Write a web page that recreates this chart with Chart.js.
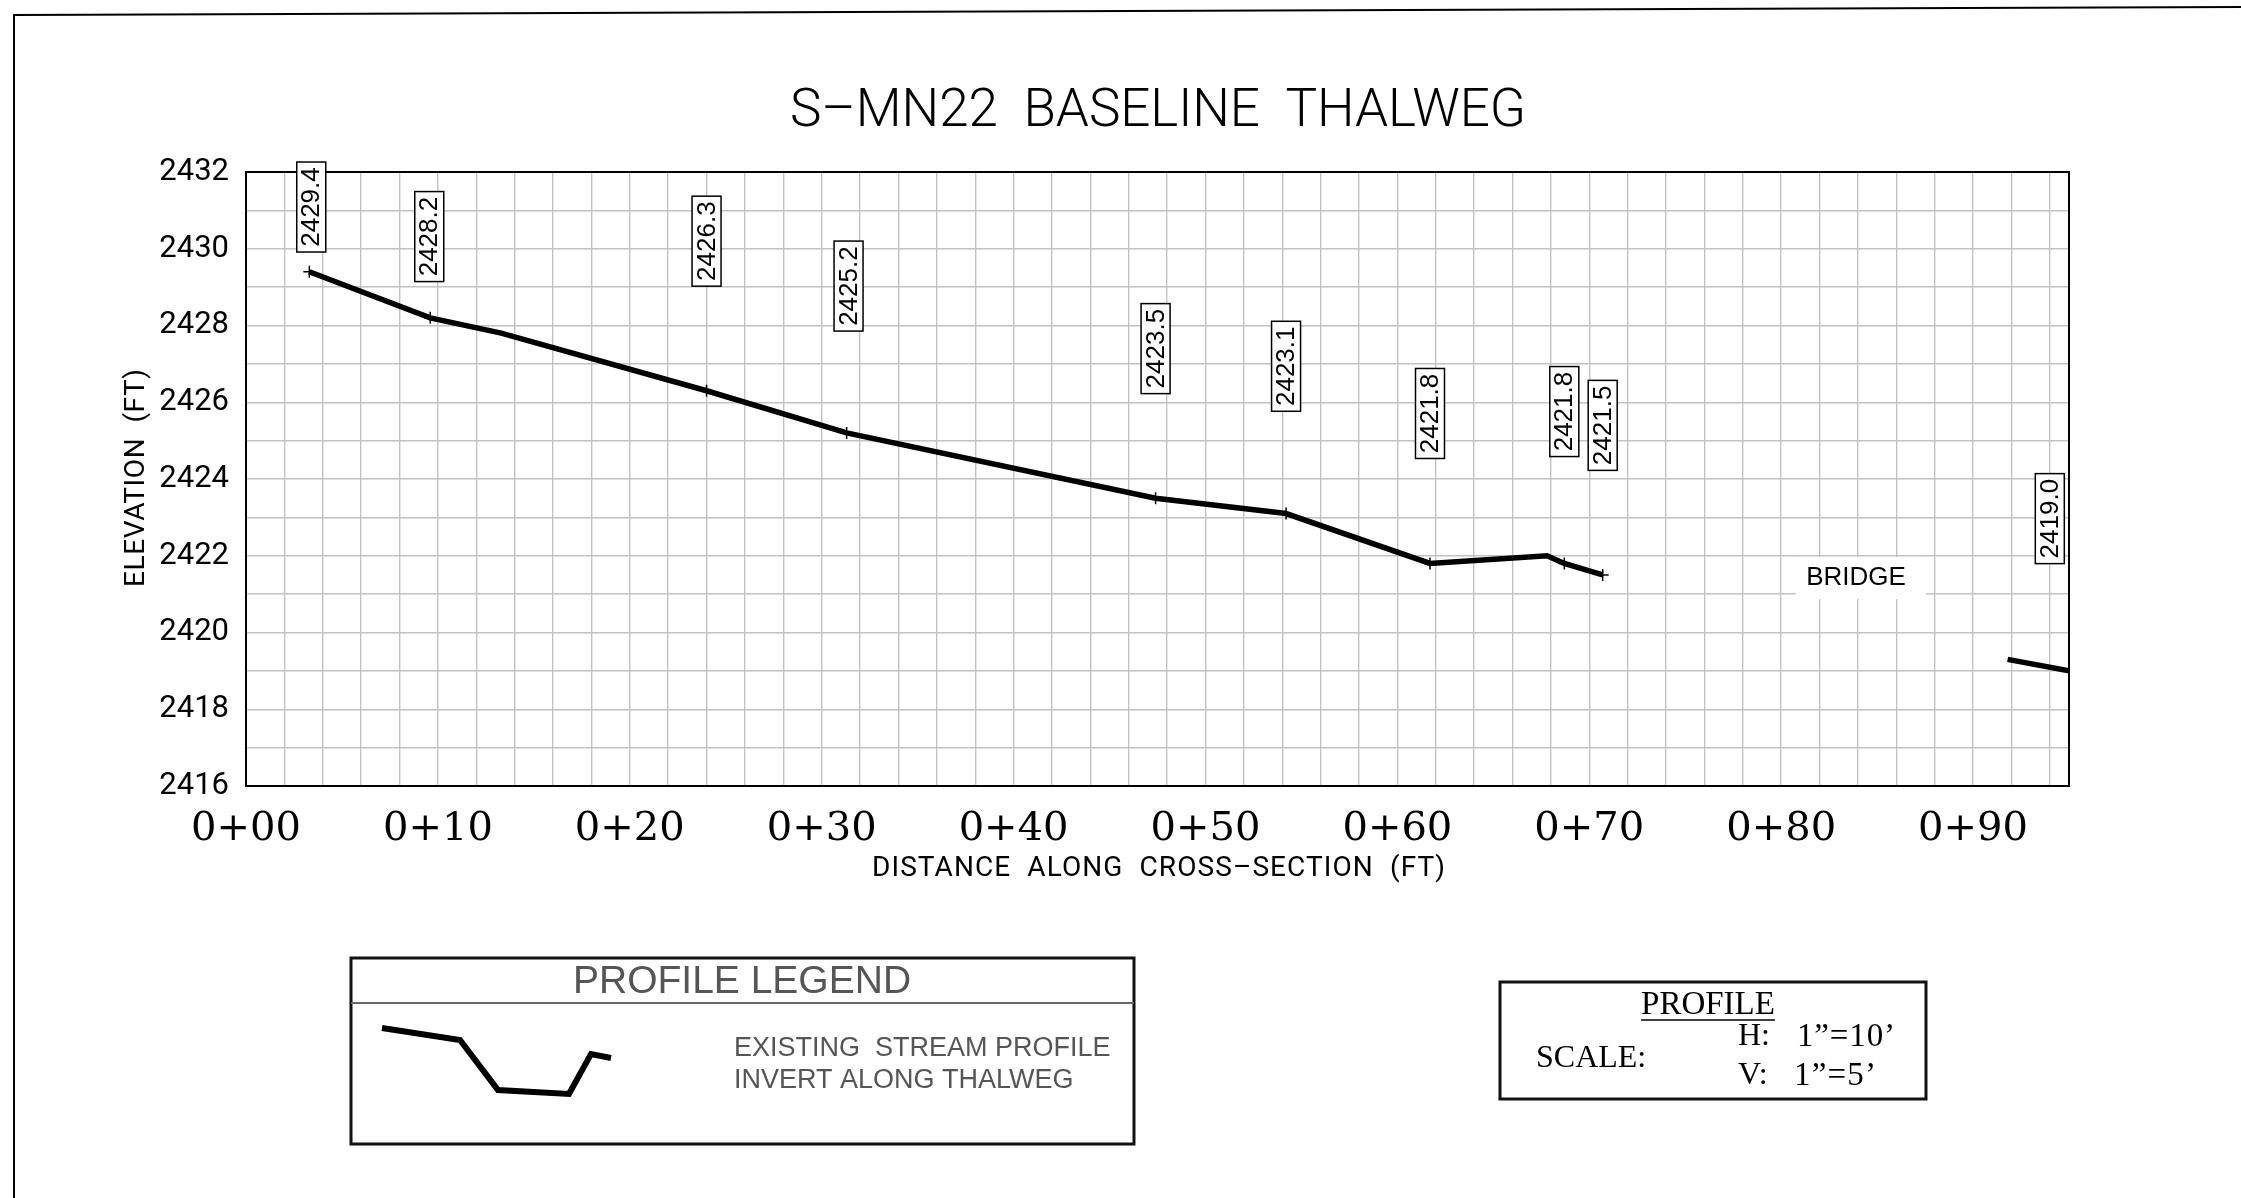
<!DOCTYPE html>
<html>
<head>
<meta charset="utf-8">
<script src="https://cdn.jsdelivr.net/npm/chart.js@4.4.1/dist/chart.umd.min.js"></script>
<style>
  html, body { margin: 0; padding: 0; background: #fff; }
  #wrap { width: 2241px; height: 1198px; }
</style>
</head>
<body>
<div id="wrap"><canvas id="profile" width="2241" height="1198"></canvas></div>
<script>
// thalweg upstream of the bridge (ft along section, elevation ft)
const stations   = [3.3, 9.6, 13.3, 24.0, 31.3, 47.4, 54.2, 61.7, 67.8, 68.7, 70.7];
const elevations = [2429.4, 2428.2, 2427.8, 2426.3, 2425.2, 2423.5, 2423.1, 2421.8, 2422.0, 2421.8, 2421.5];
const surveyed   = [true, true, false, true, true, true, true, true, false, true, true];

// downstream of the bridge
const downStations   = [91.8, 95.0];
const downElevations = [2419.3, 2419.0];
const downSurveyed   = [false, true];

// elevation call-outs
const calloutValues   = [2429.4, 2428.2, 2426.3, 2425.2, 2423.5, 2423.1, 2421.8, 2421.8, 2421.5, 2419.0];
const calloutStations = [3.4, 9.55, 24.0, 31.4, 47.4, 54.2, 61.7, 68.7, 70.7, 94.0];
const calloutTops     = [2432.26, 2431.49, 2431.37, 2430.2, 2428.57, 2428.11, 2426.88, 2426.93, 2426.57, 2424.14];

const X_MIN = 0, X_MAX = 95, X_STEP = 2, X_LABEL_EVERY = 10;
const Y_MIN = 2416, Y_MAX = 2432, Y_STEP = 1, Y_LABEL_EVERY = 2;

const CAD = '"Roboto", "DejaVu Sans", sans-serif';
const GRID = '#c2c2c2';

function toPoints(xs, ys) { return xs.map((x, i) => ({ x, y: ys[i] })); }

// draw text stretched to a given width with letter spacing
function spaced(ctx, text, left, midY, width) {
  ctx.letterSpacing = '0px';
  const w0 = ctx.measureText(text).width;
  const ls = (width - w0) / Math.max(1, text.length - 1);
  ctx.letterSpacing = ls + 'px';
  ctx.textAlign = 'left';
  ctx.textBaseline = 'middle';
  ctx.fillText(text, left, midY);
  ctx.letterSpacing = '0px';
}

const sheet = {
  id: 'sheet',
  afterDraw(chart) {
    const ctx = chart.ctx, xs = chart.scales.x, ys = chart.scales.y, a = chart.chartArea;
    ctx.save();

    // sheet border
    ctx.strokeStyle = '#000'; ctx.lineWidth = 2;
    ctx.beginPath(); ctx.moveTo(14, 1198); ctx.lineTo(14, 15); ctx.lineTo(2241, 7); ctx.stroke();

    // plot frame
    ctx.lineWidth = 2;
    ctx.strokeRect(a.left, a.top, a.right - a.left, a.bottom - a.top);

    // bridge note
    const bx0 = xs.getPixelForValue(80.76), bx1 = xs.getPixelForValue(87.55);
    const by0 = ys.getPixelForValue(2421.97), by1 = ys.getPixelForValue(2420.87);
    ctx.fillStyle = '#fff';
    ctx.fillRect(bx0, by0, bx1 - bx0, by1 - by0);
    ctx.fillStyle = '#000';
    ctx.font = '26px "Liberation Sans", Arial, sans-serif';
    ctx.textAlign = 'center'; ctx.textBaseline = 'middle';
    ctx.fillText('BRIDGE', xs.getPixelForValue(83.9), ys.getPixelForValue(2421.42));

    // elevation call-outs
    calloutValues.forEach((v, i) => {
      const cx = xs.getPixelForValue(calloutStations[i]);
      const top = ys.getPixelForValue(calloutTops[i]);
      const w = 29, h = 90;
      ctx.fillStyle = '#fff';
      ctx.fillRect(cx - w / 2, top, w, h);
      ctx.strokeStyle = '#000'; ctx.lineWidth = 1.5;
      ctx.strokeRect(cx - w / 2, top, w, h);
      ctx.save();
      ctx.translate(cx, top + h / 2);
      ctx.rotate(-Math.PI / 2);
      ctx.fillStyle = '#000';
      ctx.font = '26px "Liberation Sans", Arial, sans-serif';
      ctx.textAlign = 'center'; ctx.textBaseline = 'middle';
      ctx.fillText(v.toFixed(1), 0, 1);
      ctx.restore();
    });

    // titles
    ctx.fillStyle = '#000';
    ctx.font = '300 53px ' + CAD;
    spaced(ctx, 'S\u2013MN22  BASELINE  THALWEG', 790, 113, 736);
    ctx.font = '28px ' + CAD;
    spaced(ctx, 'DISTANCE  ALONG  CROSS\u2013SECTION  (FT)', 872, 869, 573);
    ctx.save();
    ctx.translate(137, 478);
    ctx.rotate(-Math.PI / 2);
    spaced(ctx, 'ELEVATION  (FT)', -109, 0, 218);
    ctx.restore();

    // profile legend
    ctx.strokeStyle = '#111'; ctx.lineWidth = 3;
    ctx.strokeRect(351, 958, 783, 186);
    ctx.strokeStyle = '#666'; ctx.lineWidth = 2;
    ctx.beginPath(); ctx.moveTo(351, 1003); ctx.lineTo(1134, 1003); ctx.stroke();
    ctx.fillStyle = '#555';
    ctx.font = '39px "Liberation Sans", Arial, sans-serif';
    ctx.textAlign = 'center'; ctx.textBaseline = 'middle';
    ctx.fillText('PROFILE LEGEND', 742, 982);
    ctx.font = '27px "Liberation Sans", Arial, sans-serif';
    ctx.textAlign = 'left';
    ctx.fillText('EXISTING  STREAM PROFILE', 734, 1049);
    ctx.fillText('INVERT ALONG THALWEG', 734, 1081);
    ctx.strokeStyle = '#000'; ctx.lineWidth = 6; ctx.lineJoin = 'miter';
    ctx.beginPath();
    ctx.moveTo(382, 1028); ctx.lineTo(460, 1040); ctx.lineTo(498, 1090);
    ctx.lineTo(569, 1094); ctx.lineTo(591, 1054); ctx.lineTo(611, 1058);
    ctx.stroke();

    // scale box
    ctx.strokeStyle = '#111'; ctx.lineWidth = 3;
    ctx.strokeRect(1500, 982, 426, 117);
    ctx.fillStyle = '#000';
    ctx.font = '33px "Liberation Serif", "Times New Roman", serif';
    ctx.textAlign = 'center'; ctx.textBaseline = 'middle';
    ctx.fillText('PROFILE', 1708, 1005);
    const pw = ctx.measureText('PROFILE').width;
    ctx.lineWidth = 1.5; ctx.strokeStyle = '#000';
    ctx.beginPath(); ctx.moveTo(1708 - pw / 2, 1020); ctx.lineTo(1708 + pw / 2, 1020); ctx.stroke();
    ctx.textAlign = 'left';
    ctx.font = '32px "Liberation Serif", "Times New Roman", serif';
    ctx.fillText('SCALE:', 1536, 1059);
    ctx.fillText('H:', 1738, 1037);
    ctx.fillText('V:', 1738, 1076);
    ctx.font = '33px "Liberation Serif", "Times New Roman", serif';
    spaced(ctx, '1\u201d=10\u2019', 1797, 1037, 98);
    spaced(ctx, '1\u201d=5\u2019', 1794, 1076, 82);

    ctx.restore();
  }
};

const lineStyle = {
  borderColor: '#000',
  borderWidth: 5.5,
  pointStyle: 'cross',
  pointBorderColor: '#000',
  pointBorderWidth: 1.5,
  fill: false,
  tension: 0
};

new Chart(document.getElementById('profile'), {
  type: 'line',
  data: {
    datasets: [
      Object.assign({ label: 'Existing stream profile', data: toPoints(stations, elevations),
        pointRadius: surveyed.map(s => s ? 6 : 0) }, lineStyle),
      Object.assign({ label: 'Downstream of bridge', data: toPoints(downStations, downElevations),
        pointRadius: downSurveyed.map(s => s ? 6 : 0) }, lineStyle)
    ]
  },
  options: {
    responsive: false,
    devicePixelRatio: 1,
    animation: false,
    layout: { padding: { left: 0, right: 172, top: 172, bottom: 0 } },
    plugins: { legend: { display: false }, tooltip: { enabled: false } },
    scales: {
      x: {
        type: 'linear', min: X_MIN, max: X_MAX,
        afterFit(s) { s.height = 412; },
        grid: { color: GRID, lineWidth: 1.4, drawTicks: false },
        border: { display: true, color: '#000', width: 2 },
        ticks: {
          stepSize: X_STEP, includeBounds: false, autoSkip: false, maxRotation: 0, padding: 20,
          color: '#000',
          font: { family: '"DejaVu Serif", "Liberation Serif", serif', size: 40 },
          callback: v => v % X_LABEL_EVERY === 0 ? '0+' + String(v).padStart(2, '0') : ''
        }
      },
      y: {
        type: 'linear', min: Y_MIN, max: Y_MAX,
        afterFit(s) { s.width = 246; },
        grid: { color: GRID, lineWidth: 1.4, drawTicks: false },
        border: { display: true, color: '#000', width: 2 },
        ticks: {
          stepSize: Y_STEP, autoSkip: false, padding: 17, color: '#000',
          font: { family: CAD, size: 31, weight: '400' },
          callback: v => v % Y_LABEL_EVERY === 0 ? String(v) : ''
        }
      }
    }
  },
  plugins: [sheet]
});
</script>
</body>
</html>
